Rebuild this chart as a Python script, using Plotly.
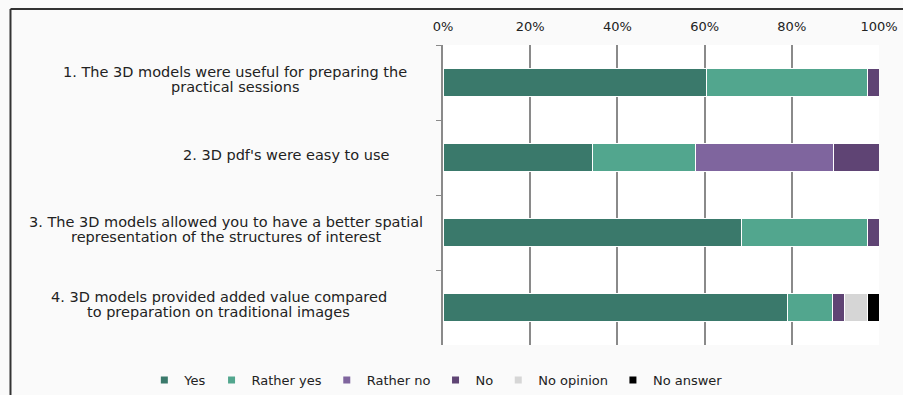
import plotly.graph_objects as go

categories = [
    "1. The 3D models were useful for preparing the<br>practical sessions",
    "2. 3D pdf's were easy to use",
    "3. The 3D models allowed you to have a better spatial<br>representation of the structures of interest",
    "4. 3D models provided added value compared<br>to preparation on traditional images",
]
cat_ids = ["Q1", "Q2", "Q3", "Q4"]

series_names = ["Yes", "Rather yes", "Rather no", "No", "No opinion", "No answer"]
yes = [60.5, 34.2, 68.4, 78.9]
rather_yes = [36.9, 23.7, 28.9, 10.5]
rather_no = [0.0, 31.6, 0.0, 0.0]
no = [2.6, 10.5, 2.7, 2.7]
no_opinion = [0.0, 0.0, 0.0, 5.3]
no_answer = [0.0, 0.0, 0.0, 2.6]
series_values = [yes, rather_yes, rather_no, no, no_opinion, no_answer]
colors = ["#3a796b", "#52a68e", "#7f659e", "#5f4474", "#d6d6d6", "#000000"]

x_ticks = [0, 20, 40, 60, 80, 100]
x_ticklabels = ["0%", "20%", "40%", "60%", "80%", "100%"]

# horizontal centres of question labels (paper coords)
label_x = [-0.477, -0.360, -0.498, -0.514]
LINE_STEP = 15

fig = go.Figure()
for name, vals, col in zip(series_names, series_values, colors):
    fig.add_trace(go.Bar(
        y=cat_ids, x=vals, name=name, orientation="h",
        marker=dict(color=col, line=dict(color="#ffffff", width=1)),
        showlegend=False,
    ))
    # legend marker proxy
    fig.add_trace(go.Scatter(
        x=[None], y=[None], mode="markers", name=name,
        marker=dict(symbol="square", size=7, color=col),
        showlegend=True,
    ))

for cid, lab, lx in zip(cat_ids, categories, label_x):
    lines = lab.split("<br>")
    n = len(lines)
    for i, ln in enumerate(lines):
        offset = ((n - 1) / 2 - i) * LINE_STEP
        fig.add_annotation(
            x=lx, xref="paper", y=cid, yref="y", text=ln, showarrow=False,
            xanchor="center", yanchor="middle", align="center",
            yshift=3 + offset,
            font=dict(family="DejaVu Sans", size=14.5, color="#222222"),
        )

fig.update_layout(
    width=903, height=395,
    margin=dict(l=443, r=24, t=45, b=50, autoexpand=False),
    barmode="stack", bargap=0.62,
    paper_bgcolor="#fafafa", plot_bgcolor="#ffffff",
    font=dict(family="DejaVu Sans", size=13, color="#222222"),
    xaxis=dict(
        side="top", range=[0, 100], tickvals=x_ticks, ticktext=x_ticklabels,
        showgrid=True, gridcolor="#8a8a8a", gridwidth=1.5, zeroline=False,
        showline=False, ticks="", tickfont=dict(size=13),
        ticklabelstandoff=10,
    ),
    yaxis=dict(
        autorange="reversed", showticklabels=False, showgrid=False,
        showline=True, linecolor="#8a8a8a", linewidth=1.5,
        ticks="outside", tickson="boundaries", ticklen=5, tickcolor="#8a8a8a",
    ),
    legend=dict(
        orientation="h", x=-0.685, xanchor="left", y=-0.117, yanchor="middle",
        font=dict(size=13), bgcolor="rgba(0,0,0,0)", itemwidth=30,
        traceorder="normal", tracegroupgap=0,
    ),
    shapes=[
        dict(type="line", xref="paper", yref="paper", x0=-0.992, x1=1.06,
             y0=1.12, y1=1.12, line=dict(color="#333333", width=2)),
        dict(type="line", xref="paper", yref="paper", x0=-0.992, x1=-0.992,
             y0=1.12, y1=-0.2, line=dict(color="#333333", width=2)),
    ],
)

fig.write_html("out.html")
